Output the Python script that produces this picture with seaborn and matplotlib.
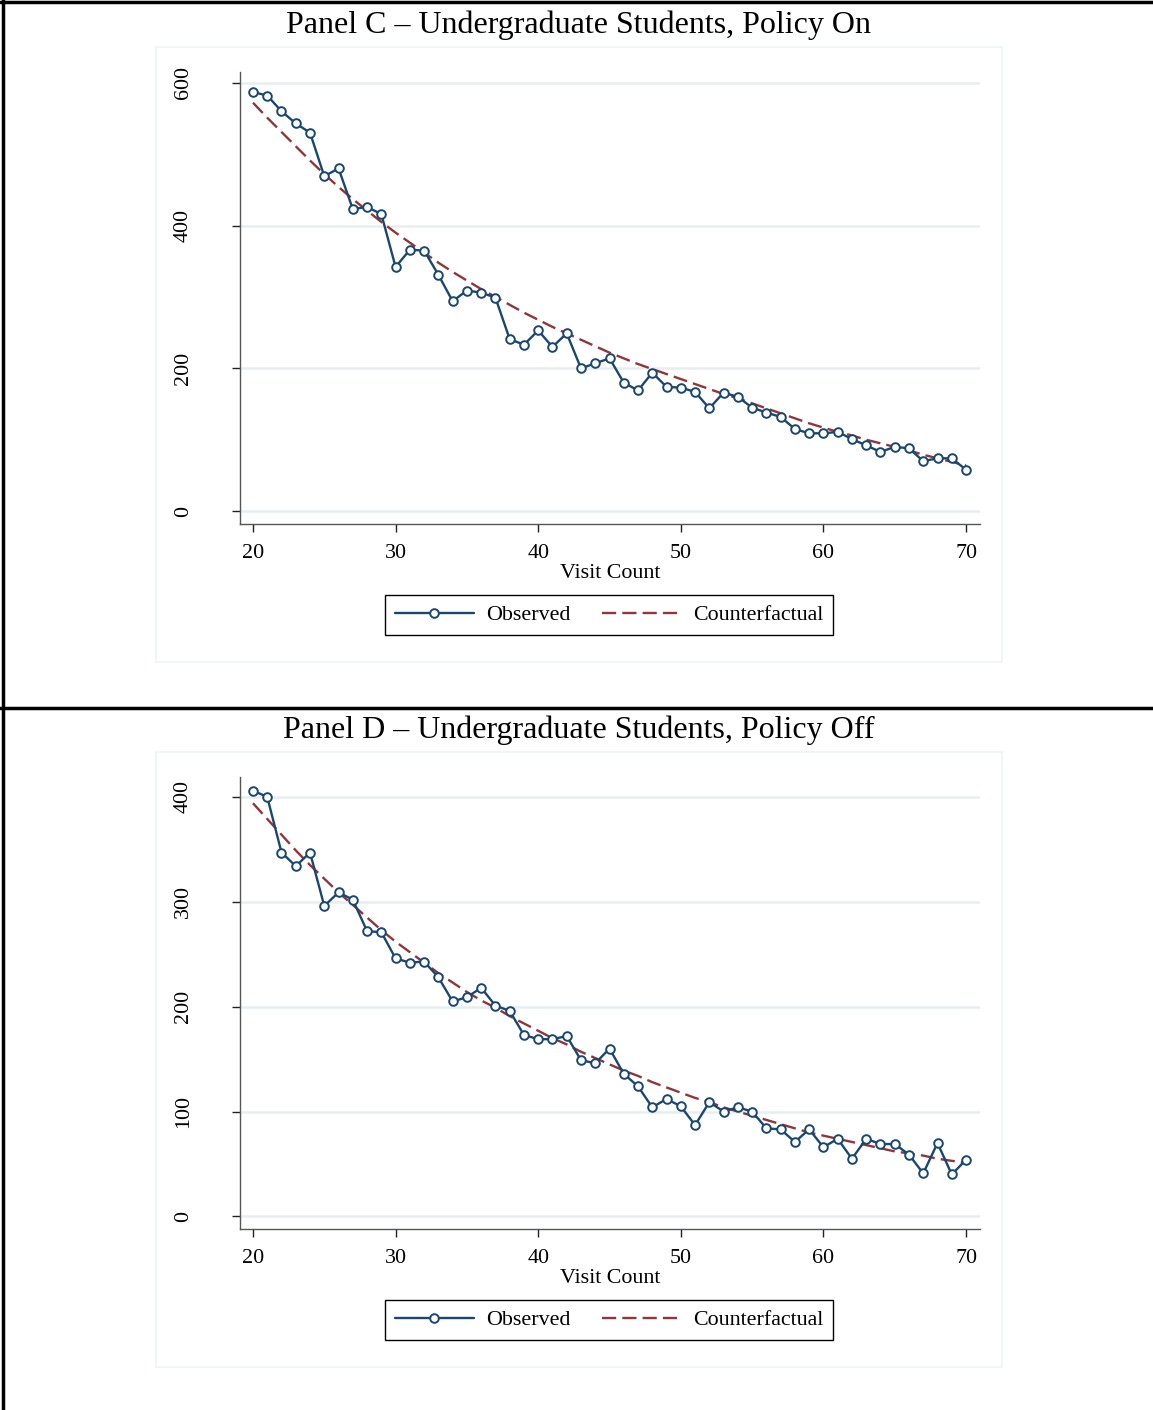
import numpy as np
import pandas as pd
import seaborn as sns
import matplotlib.pyplot as plt
from matplotlib.lines import Line2D
from matplotlib.patches import Rectangle

VISITS = list(range(20, 71))

# Panel C: undergraduate, policy on
OBS_C = [587, 582, 560, 543, 530, 469, 480, 423, 426, 416,
         342, 366, 365, 331, 294, 309, 306, 299, 241, 233,
         253, 230, 249, 200, 207, 214, 180, 169, 194, 174,
         173, 167, 144, 166, 160, 145, 138, 132, 115, 109,
         109, 111, 101, 92, 83, 90, 88, 70, 74, 74, 58]
CF_C = [572, 551, 531, 511, 491, 472, 454, 437, 421, 405,
        390, 376, 362, 348, 335, 323, 311, 300, 289, 278,
        268, 258, 249, 240, 231, 222, 214, 206, 199, 192,
        185, 178, 171, 164, 158, 151, 144, 137, 130, 123,
        117, 111, 106, 100, 95, 90, 85, 79, 74, 69, 64]

# Panel D: undergraduate, policy off
OBS_D = [406, 400, 347, 334, 347, 296, 309, 302, 272, 271,
         246, 242, 243, 228, 205, 209, 218, 201, 196, 173,
         169, 169, 172, 149, 146, 160, 136, 124, 104, 112,
         105, 87, 109, 100, 104, 100, 84, 83, 71, 83,
         66, 74, 55, 74, 69, 69, 59, 41, 70, 40, 54]
CF_D = [394, 379, 364, 349, 335, 322, 309, 297, 285, 273,
        262, 252, 242, 232, 223, 214, 206, 199, 191, 184,
        177, 170, 164, 157, 151, 145, 139, 134, 128, 123,
        118, 113, 109, 104, 100, 96, 92, 88, 84, 80,
        77, 74, 71, 68, 65, 62, 60, 58, 55, 53, 51]

PANELS = [
    ("Panel C \u2013 Undergraduate Students, Policy On", OBS_C, CF_C, [0, 200, 400, 600], (-18, 615)),
    ("Panel D \u2013 Undergraduate Students, Policy Off", OBS_D, CF_D, [0, 100, 200, 300, 400], (-12, 419)),
]

NAVY = "#1A476F"
MAROON = "#90353B"
GRID = "#E6EEF0"
FS = 15.8

sns.set_style("white")
plt.rcParams["font.family"] = ["Liberation Serif", "DejaVu Serif"]
plt.rcParams["text.color"] = "black"
plt.rcParams["xtick.color"] = "black"
plt.rcParams["ytick.color"] = "black"
plt.rcParams["axes.labelcolor"] = "black"

W, H = 1153, 1410
fig = plt.figure(figsize=(W / 100, H / 100), dpi=100)


def fx(px):
    return px / W


def fy(py):
    return 1 - py / H


for i, (title, obs, cf, yticks, ylim) in enumerate(PANELS):
    off = 705 * i
    # graph region outline
    fig.add_artist(Rectangle((fx(156), fy(662 + off)), fx(1002) - fx(156), fy(47) - fy(662),
                             fill=False, edgecolor="#EEF3F4", linewidth=1.2))
    fig.text(fx(579), fy(25 + off), title, ha="center", va="center", fontsize=23)

    ax = fig.add_axes([fx(240), fy(524 + off), fx(980) - fx(240), fy(72) - fy(524)])
    df = pd.DataFrame({"visit": VISITS, "observed": obs, "counterfactual": cf})
    sns.lineplot(data=df, x="visit", y="counterfactual", ax=ax, color=MAROON,
                 linewidth=1.7, dashes=False, linestyle=(0, (6, 2.6)), zorder=3)
    sns.lineplot(data=df, x="visit", y="observed", ax=ax, color=NAVY, linewidth=1.7,
                 marker="o", markersize=6.2, markerfacecolor="white",
                 markeredgecolor=NAVY, markeredgewidth=1.4, zorder=4)

    ax.set_xlim(19.09, 70.98)
    ax.set_ylim(*ylim)
    ax.set_xticks([20, 30, 40, 50, 60, 70])
    ax.set_yticks(yticks)
    ax.grid(axis="y", color=GRID, linewidth=1.8, zorder=0)
    ax.grid(axis="x", visible=False)
    for s in ["top", "right"]:
        ax.spines[s].set_visible(False)
    for s in ["left", "bottom"]:
        ax.spines[s].set_color("#555555")
        ax.spines[s].set_linewidth(1.0)
    ax.tick_params(axis="both", direction="out", length=6, width=1.0, color="#222222",
                   labelsize=FS, bottom=True, left=True)
    ax.tick_params(axis="y", pad=28, labelrotation=90)
    for lab in ax.get_yticklabels():
        lab.set_va("center")
    ax.tick_params(axis="x", pad=8.5)
    ax.set_xlabel("Visit Count", fontsize=FS, labelpad=0.5)
    ax.set_ylabel("")

    handles = [
        Line2D([], [], color=NAVY, linewidth=1.7, marker="o", markersize=6.2,
               markerfacecolor="white", markeredgecolor=NAVY, markeredgewidth=1.4),
        Line2D([], [], color=MAROON, linewidth=1.7, linestyle=(0, (6, 2.6))),
    ]
    leg = fig.legend(handles, ["Observed", "Counterfactual"], ncol=2,
                     loc="center", bbox_to_anchor=(fx(609), fy(615 + off)),
                     fontsize=FS, frameon=True, fancybox=False, edgecolor="black",
                     handlelength=3.6, columnspacing=1.45, handletextpad=0.55,
                     borderpad=0.45, borderaxespad=0, framealpha=1)
    leg.get_frame().set_linewidth(1.0)

# page borders
fig.add_artist(Line2D([fx(3), fx(3)], [0, 1], color="black", linewidth=2.5))
fig.add_artist(Line2D([0, 1], [fy(2), fy(2)], color="black", linewidth=2.5))
fig.add_artist(Line2D([0, 1], [fy(708), fy(708)], color="black", linewidth=2.5))

fig.savefig("out.png", dpi=100)
